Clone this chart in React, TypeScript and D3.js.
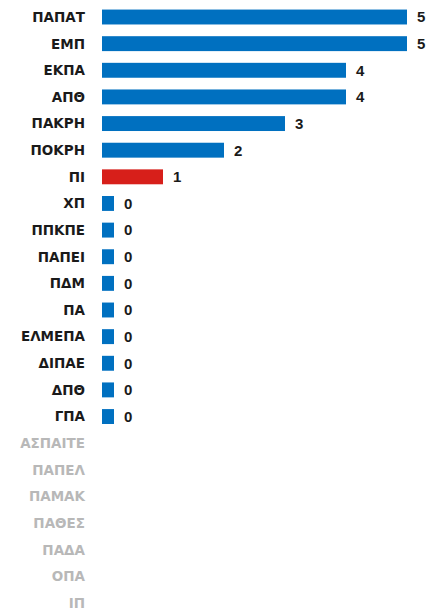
import { useRef, useEffect } from "react";
import * as d3 from "d3";

const categories = [
  "ΠΑΠΑΤ", "ΕΜΠ", "ΕΚΠΑ", "ΑΠΘ", "ΠΑΚΡΗ", "ΠΟΚΡΗ", "ΠΙ", "ΧΠ", "ΠΠΚΠΕ",
  "ΠΑΠΕΙ", "ΠΔΜ", "ΠΑ", "ΕΛΜΕΠΑ", "ΔΙΠΑΕ", "ΔΠΘ", "ΓΠΑ",
  "ΑΣΠΑΙΤΕ", "ΠΑΠΕΛ", "ΠΑΜΑΚ", "ΠΑΘΕΣ", "ΠΑΔΑ", "ΟΠΑ", "ΙΠ",
];
const values: (number | null)[] = [
  5, 5, 4, 4, 3, 2, 1, 0, 0, 0, 0, 0, 0, 0, 0, 0,
  null, null, null, null, null, null, null,
];
const highlighted = ["ΠΙ"];

const BLUE = "#0070c0";
const RED = "#d71f1a";
const LABEL_FONT = "'DejaVu Sans', sans-serif";
const VALUE_FONT = "'Liberation Sans', Arial, sans-serif";

export default function App() {
  const svgRef = useRef<SVGSVGElement>(null);

  useEffect(() => {
    if (!svgRef.current) return;
    const svg = d3.select(svgRef.current);
    svg.selectAll("*").remove();

    const width = 430;
    const height = 610;
    const x0 = 102;

    const x = d3.scaleLinear().domain([0, 5]).range([x0, x0 + 5 * 61]);
    const y = d3
      .scaleBand<string>()
      .domain(categories)
      .range([3.7, 616.3])
      .paddingInner(0.44)
      .paddingOuter(0.22);

    svg.attr("width", width).attr("height", height);

    const rows = categories.map((c, i) => ({ cat: c, v: values[i] }));

    // Category labels
    svg
      .append("g")
      .selectAll("text")
      .data(rows)
      .join("text")
      .attr("x", 85)
      .attr("y", (d) => (y(d.cat) ?? 0) + y.bandwidth() / 2)
      .attr("dy", "0.36em")
      .attr("text-anchor", "end")
      .style("font-family", LABEL_FONT)
      .style("font-size", "13.5px")
      .style("font-weight", "bold")
      .style("fill", (d) => (d.v === null ? "#b8b8b8" : "#1a1a1a"))
      .text((d) => d.cat);

    const withData = rows.filter((d) => d.v !== null) as { cat: string; v: number }[];
    const barW = (v: number) => Math.max(x(v) - x0, 12);

    // Bars
    svg
      .append("g")
      .selectAll("rect")
      .data(withData)
      .join("rect")
      .attr("x", x0)
      .attr("y", (d) => y(d.cat) ?? 0)
      .attr("width", (d) => barW(d.v))
      .attr("height", y.bandwidth())
      .attr("fill", (d) => (highlighted.includes(d.cat) ? RED : BLUE));

    // Value labels
    svg
      .append("g")
      .selectAll("text")
      .data(withData)
      .join("text")
      .attr("x", (d) => x0 + barW(d.v) + 10)
      .attr("y", (d) => (y(d.cat) ?? 0) + y.bandwidth() / 2)
      .attr("dy", "0.36em")
      .style("font-family", VALUE_FONT)
      .style("font-size", "15px")
      .style("font-weight", "bold")
      .style("fill", "#1a1a1a")
      .text((d) => d.v);

    return () => {
      svg.selectAll("*").remove();
    };
  }, []);

  return (
    <svg
      ref={svgRef}
      style={{ position: "absolute", left: 0, top: 0, background: "#fff" }}
    />
  );
}
